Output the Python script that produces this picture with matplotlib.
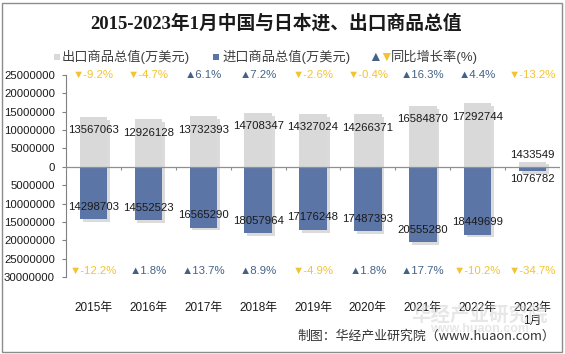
import matplotlib
matplotlib.use("Agg")
import matplotlib.pyplot as plt
from matplotlib.ticker import FuncFormatter, MultipleLocator
from matplotlib.patches import Rectangle
import matplotlib.patheffects as pe
import numpy as np

plt.rcParams['font.family'] = ['Liberation Sans', 'Noto Sans CJK SC', 'DejaVu Sans']

categories = ["2015年", "2016年", "2017年", "2018年", "2019年", "2020年", "2021年", "2022年", "2023年\n1月"]
exports = [13567063, 12926128, 13732393, 14708347, 14327024, 14266371, 16584870, 17292744, 1433549]
imports = [14298703, 14552523, 16565290, 18057964, 17176248, 17487393, 20555280, 18449699, 1076782]
export_growth = [-9.2, -4.7, 6.1, 7.2, -2.6, -0.4, 16.3, 4.4, -13.2]
import_growth = [-12.2, 1.8, 13.7, 8.9, -4.9, 1.8, 17.7, -10.2, -34.7]

EXP_C = '#d9d9d9'
IMP_C = '#5b75a6'
UP_C = '#436287'
DN_C = '#f2c431'
TXT = '#1a1a1a'

fig = plt.figure(figsize=(5.65, 3.54), dpi=100)
fig.patch.set_facecolor('white')
ax = fig.add_axes([66/565, 1-277/354, (560-66)/565, (277-75)/354])

x = np.arange(len(categories))
shadow = [pe.SimplePatchShadow(offset=(2, -2), shadow_rgbFace='#999999', alpha=0.35), pe.Normal()]
b1 = ax.bar(x, exports, width=0.5, color=EXP_C, zorder=2)
b2 = ax.bar(x, [-v for v in imports], width=0.5, color=IMP_C, zorder=2)
for p in list(b1) + list(b2):
    p.set_path_effects(shadow)

ax.set_xlim(-0.5, len(categories) - 0.5)
ax.set_ylim(-30000000, 25000000)
ax.yaxis.set_major_locator(MultipleLocator(5000000))
ax.yaxis.set_major_formatter(FuncFormatter(lambda v, p: f"{abs(int(round(v)))}"))
ax.tick_params(axis='y', length=3, color='#808080', labelsize=8.2, labelcolor=TXT, pad=5)
ax.set_xticks(x)
ax.set_xticklabels(categories, fontsize=8.5, color=TXT, va='top', linespacing=1.1)
ax.tick_params(axis='x', length=0, pad=18)
for s in ['top', 'right', 'bottom']:
    ax.spines[s].set_visible(False)
ax.spines['left'].set_color('#808080')
ax.axhline(0, color='#909090', lw=0.9, zorder=3)
ax.vlines(np.arange(len(categories) + 1) - 0.5, -900000, 0, color='#909090', lw=0.8, zorder=3)

for i, v in enumerate(exports):
    off = -9.5 if v > 3000000 else 4.5
    ax.annotate(f"{v}", (i, v), xytext=(0, off), textcoords='offset points',
                ha='center', va='center', fontsize=8.2, color=TXT, zorder=5)
for i, v in enumerate(imports):
    off = 9 if v > 3000000 else -5.8
    ax.annotate(f"{v}", (i, -v), xytext=(0, off), textcoords='offset points',
                ha='center', va='center', fontsize=8.2, color=TXT, zorder=5)

def glabel(g):
    if g >= 0:
        return f"▲{g:.1f}%", UP_C
    return f"▼{g:.1f}%", DN_C

for i, g in enumerate(export_growth):
    t, c = glabel(g)
    ax.text(i, 25000000, t, ha='center', va='center', fontsize=8.2, color=c, zorder=5)
for i, g in enumerate(import_growth):
    t, c = glabel(g)
    ax.text(i, -28300000, t, ha='center', va='center', fontsize=8.2, color=c, zorder=5)

# Title
fig.text(0.488, 1-23/354, "2015-2023年1月中国与日本进、出口商品总值", ha='center', va='center',
         fontsize=13.5, fontweight='bold', color='#1a1a1a',
         family=['Liberation Serif', 'Noto Sans CJK SC'])

# Legend
ly = 1 - 57/354
LEG = '#404040'
fig.patches.append(Rectangle((54/565, ly - 3/354), 6/565, 6/354, transform=fig.transFigure,
                             facecolor=EXP_C, edgecolor='none'))
fig.text(62/565, ly, "出口商品总值(万美元)", ha='left', va='center', fontsize=9.5, color=LEG)
fig.patches.append(Rectangle((213/565, ly - 3/354), 6/565, 6/354, transform=fig.transFigure,
                             facecolor=IMP_C, edgecolor='none'))
fig.text(222/565, ly, "进口商品总值(万美元)", ha='left', va='center', fontsize=9.5, color=LEG)
fig.text(368/565, ly, "▲", ha='left', va='center', fontsize=10, color=UP_C)
fig.text(379/565, ly, "▼", ha='left', va='center', fontsize=10, color=DN_C)
fig.text(391/565, ly, "同比增长率(%)", ha='left', va='center', fontsize=9.5, color=LEG)

# Watermark
fig.text(480/565, 1-315/354, "华经产业研究院", ha='center', va='center', fontsize=14,
         fontweight='bold', color='#d0d0d0', alpha=0.5, family=['Noto Sans CJK SC'])
fig.text(480/565, 1-329/354, "www.huaon.com", ha='center', va='center', fontsize=9,
         fontweight='bold', color='#d0d0d0', alpha=0.5)

# Source
fig.text(555/565, 1-336/354, "制图：华经产业研究院（www.huaon.com）", ha='right', va='center',
         fontsize=9.3, color='#333333', family=['Noto Sans CJK SC', 'Liberation Sans'])

# Border
fig.patches.append(Rectangle((2/565, 2/354), 560/565, 349/354, transform=fig.transFigure,
                             facecolor='none', edgecolor='#8c8c8c', lw=1))

fig.savefig("out.png", dpi=100, facecolor='white')
